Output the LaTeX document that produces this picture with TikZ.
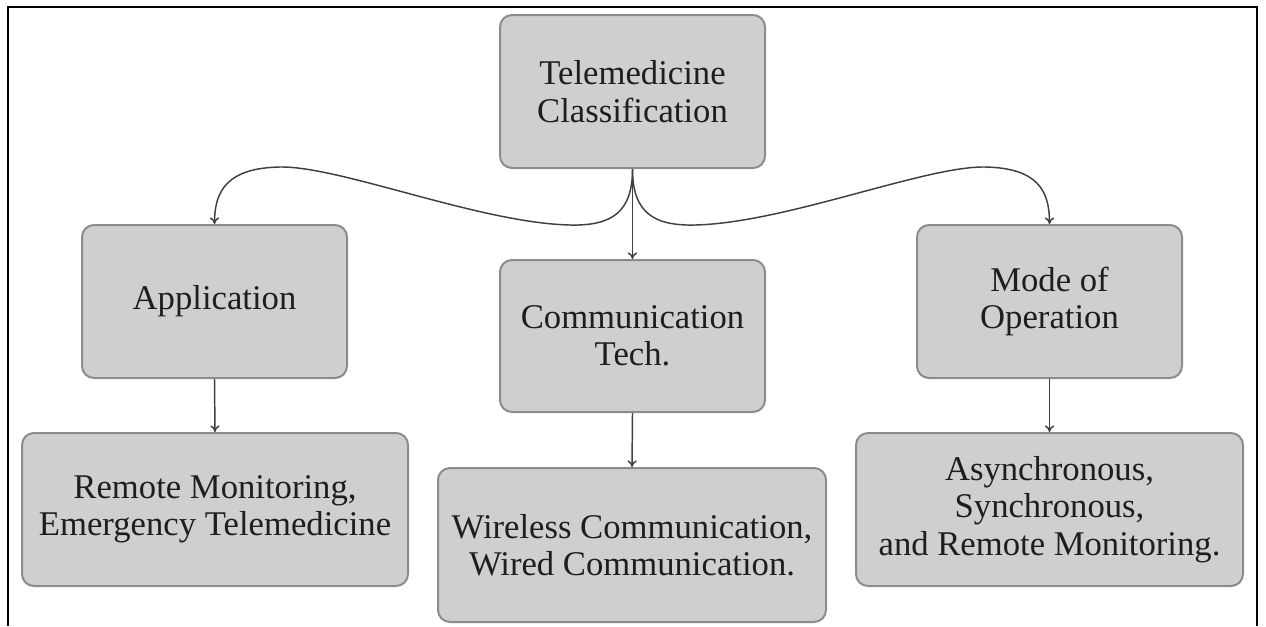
\documentclass[tikz,border=0pt]{standalone}
\usepackage{fontspec}
\setmainfont{Liberation Serif}
\usetikzlibrary{arrows.meta}
\definecolor{boxfill}{HTML}{CFCFCF}
\definecolor{boxline}{HTML}{8C8C8C}
\definecolor{arr}{HTML}{404040}
\definecolor{txt}{HTML}{1E1E1E}
\begin{document}
\begin{tikzpicture}[x=0.75pt,y=-0.75pt,
  box/.style={draw=boxline,fill=boxfill,line width=1.5pt,rounded corners=9pt,
    align=center,inner sep=0pt,text=txt,font=\fontsize{26}{28}\selectfont},
  conn/.style={draw=arr,line width=1.1pt,-{To[length=5pt,width=7pt]}}]
\useasboundingbox (0,0) rectangle (1266,626);
\draw[line width=2.2pt] (8,626) -- (8,7) -- (1257,7) -- (1257,626);
\node[box,minimum width=198.75pt,minimum height=114.75pt] (top) at (632.5,91.5) {Telemedicine\\Classification};
\node[box,minimum width=198.75pt,minimum height=114.75pt] (app) at (214.5,301.5) {Application};
\node[box,minimum width=198.75pt,minimum height=114pt] (ct) at (632.5,336) {Communication\\Tech.};
\node[box,minimum width=198.75pt,minimum height=114.75pt] (mode) at (1049.5,301.5) {Mode of\\Operation};
\node[box,minimum width=289.5pt,minimum height=114.75pt] (rm) at (215,509.5) {Remote Monitoring,\\Emergency Telemedicine};
\node[box,minimum width=291pt,minimum height=115.5pt] (wl) at (632,545) {Wireless Communication,\\Wired Communication.};
\node[box,minimum width=290.25pt,minimum height=114.75pt] (as) at (1049.5,509.5) {Asynchronous,\\Synchronous,\\and Remote Monitoring.};
\draw[conn] (top.south) .. controls (632.5,212) and (612,226) .. (570,225)
  .. controls (480,223) and (340,166) .. (280,167)
  .. controls (228,168) and (214.5,190) .. (app.north);
\draw[conn] (top.south) .. controls (632.5,212) and (653,226) .. (695,225)
  .. controls (785,223) and (925,166) .. (985,167)
  .. controls (1037,168) and (1049.5,190) .. (mode.north);
\draw[conn] (top.south) -- (ct.north);
\draw[conn] (app.south) -- (rm.north);
\draw[conn] (ct.south) -- (wl.north);
\draw[conn] (mode.south) -- (as.north);
\end{tikzpicture}
\end{document}
